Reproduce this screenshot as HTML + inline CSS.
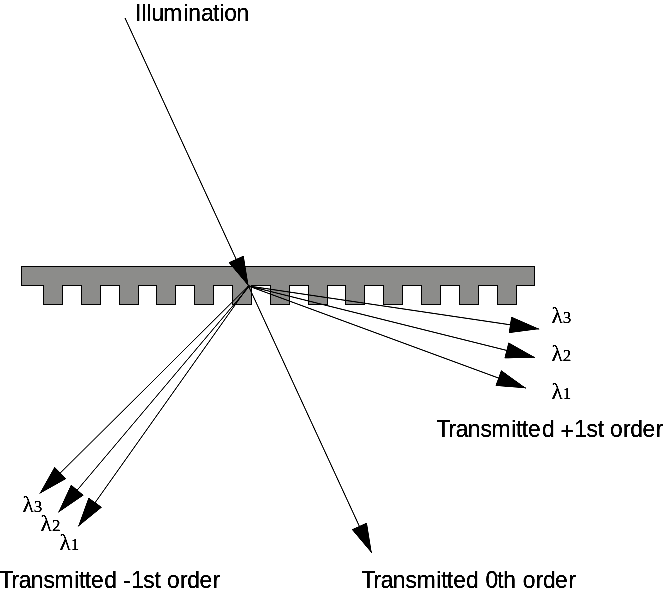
<!DOCTYPE html>
<html lang="en">
<head>
<meta charset="utf-8">
<title>Transmission grating diffraction orders</title>
<style>
html,body{margin:0;padding:0;background:#fff;}
body{width:664px;height:594px;overflow:hidden;}
svg{display:block;}
text{fill:#000;white-space:pre;}
.lbl{font-family:"Liberation Sans",sans-serif;font-size:23.5px;}
.lam{font-family:"Liberation Serif",serif;font-size:23.0px;}
.dig{font-family:"Liberation Serif",serif;font-size:17.0px;}
</style>
</head>
<body>
<svg width="664" height="594" viewBox="0 0 664 594">
<defs>
<filter id="ink" filterUnits="userSpaceOnUse" x="-10" y="-10" width="684" height="614" color-interpolation-filters="sRGB">
<feComponentTransfer><feFuncA type="linear" slope="2.2" intercept="-0.2"/></feComponentTransfer>
</filter>
<filter id="line" filterUnits="userSpaceOnUse" x="-10" y="-10" width="684" height="614" color-interpolation-filters="sRGB">
<feComponentTransfer><feFuncA type="linear" slope="2" intercept="-0.2"/></feComponentTransfer>
</filter>
</defs>
<rect x="0" y="0" width="664" height="594" fill="#fff"/>
<polygon points="21.5,266.5 534.5,266.5 534.5,285.5 516.5,285.5 516.5,304.5 497.5,304.5 497.5,285.5 478.5,285.5 478.5,304.5 459.5,304.5 459.5,285.5 440.5,285.5 440.5,304.5 421.5,304.5 421.5,285.5 402.5,285.5 402.5,304.5 383.5,304.5 383.5,285.5 364.5,285.5 364.5,304.5 345.5,304.5 345.5,285.5 327.5,285.5 327.5,304.5 308.5,304.5 308.5,285.5 289.5,285.5 289.5,304.5 270.5,304.5 270.5,285.5 251.5,285.5 251.5,304.5 232.5,304.5 232.5,285.5 213.5,285.5 213.5,304.5 194.5,304.5 194.5,285.5 175.5,285.5 175.5,304.5 156.5,304.5 156.5,285.5 138.5,285.5 138.5,304.5 119.5,304.5 119.5,285.5 100.5,285.5 100.5,304.5 81.5,304.5 81.5,285.5 62.5,285.5 62.5,304.5 43.5,304.5 43.5,285.5 21.5,285.5" fill="#8c8c8a" stroke="#000" stroke-width="1" shape-rendering="crispEdges"/>
<g stroke="#000" stroke-width="0.85" filter="url(#line)">
<line x1="125.0" y1="18.0" x2="248.5" y2="286.0"/>
<line x1="248.5" y1="286.0" x2="371.7" y2="553.0"/>
<line x1="248.5" y1="286.0" x2="539.3" y2="329.1"/>
<line x1="248.5" y1="286.0" x2="535.1" y2="357.5"/>
<line x1="248.5" y1="286.0" x2="526.1" y2="388.2"/>
<line x1="248.5" y1="286.0" x2="39.5" y2="493.7"/>
<line x1="249.6" y1="286.0" x2="58.3" y2="512.5"/>
<line x1="248.5" y1="286.0" x2="78.2" y2="526.5"/>
</g>
<g fill="#000" filter="url(#line)">
<polygon points="248.5,286.0 228.7,262.6 243.6,255.8"/>
<polygon points="371.7,553.0 351.9,529.6 366.8,522.8"/>
<polygon points="539.3,329.1 508.9,332.9 511.3,316.7"/>
<polygon points="535.1,357.5 504.5,358.3 508.5,342.4"/>
<polygon points="526.1,388.2 495.6,385.7 501.2,370.3"/>
<polygon points="39.5,493.7 54.6,467.1 66.2,478.7"/>
<polygon points="58.3,512.5 71.1,484.7 83.6,495.3"/>
<polygon points="78.2,526.5 88.6,497.7 101.9,507.2"/>
</g>
<g filter="url(#ink)">
<text y="323.0" class="lam"><tspan x="551.39">λ</tspan><tspan class="dig" x="562.70">3</tspan></text>
<text y="361.0" class="lam"><tspan x="551.39">λ</tspan><tspan class="dig" x="562.70">2</tspan></text>
<text y="399.0" class="lam"><tspan x="551.39">λ</tspan><tspan class="dig" x="562.70">1</tspan></text>
<text y="512.0" class="lam"><tspan x="22.39">λ</tspan><tspan class="dig" x="33.70">3</tspan></text>
<text y="531.0" class="lam"><tspan x="40.59">λ</tspan><tspan class="dig" x="51.90">2</tspan></text>
<text y="550.0" class="lam"><tspan x="59.39">λ</tspan><tspan class="dig" x="70.70">1</tspan></text>
<text transform="scale(0.970,1)" x="139.07 145.84 150.99 156.21 168.23 189.25 194.11 207.15 219.64 226.26 231.08 243.80" y="21" class="lbl">Illumination</text>
<text transform="scale(0.970,1)" x="449.99 462.36 469.83 482.15 495.33 506.79 526.98 532.02 537.89 544.36 558.81 571.88 577.72 592.02 604.71 616.14 622.67 628.91 642.36 649.84 662.40 676.17" y="437 437 437 437 437 437 437 437 437 437 437 437 439.4 437 437 437 437 437 437 437 437 437" class="lbl">Transmitted +1st order</text>
<text transform="scale(0.970,1)" x="-0.53 11.84 19.31 31.64 44.81 56.27 76.47 81.50 87.38 93.85 107.36 120.43 126.79 135.32 147.80 159.23 165.76 172.21 185.66 193.14 205.70 219.47" y="588" class="lbl">Transmitted -1st order</text>
<text transform="scale(0.970,1)" x="372.77 385.14 392.61 404.93 418.11 429.57 449.77 454.80 460.68 467.15 480.35 493.42 500.63 512.74 518.78 531.85 538.81 552.25 559.73 572.30 586.07" y="588" class="lbl">Transmitted 0th order</text>
</g>
</svg>
</body>
</html>
